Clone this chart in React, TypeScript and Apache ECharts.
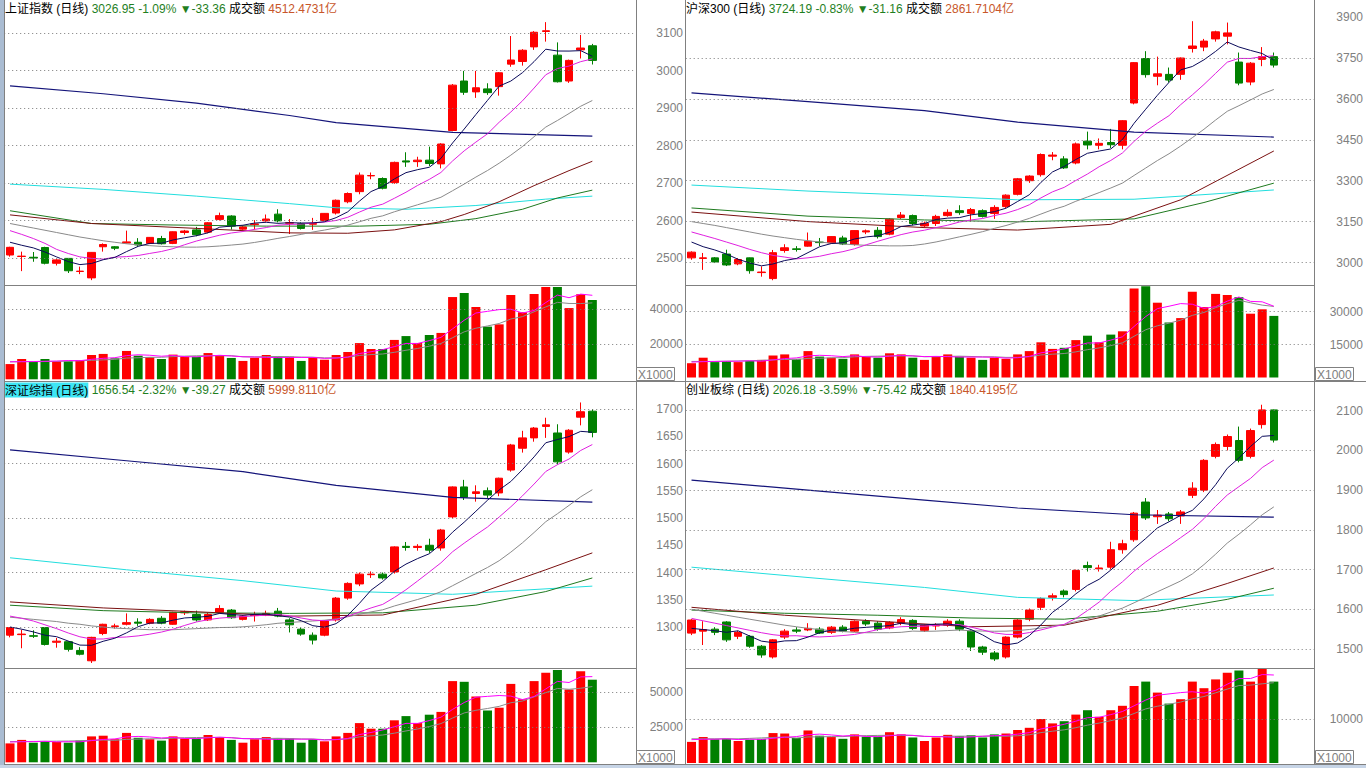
import { useEffect, useRef } from "react";
import * as echarts from "echarts";

const SLOT_COUNT = 54;
const slotLabels = Array.from({ length: SLOT_COUNT }, (_, i) => String(i));

// ---------- 上证指数 ----------
const shName = "上证指数 (日线)";
const shQuote = "3026.95 -1.09%";
const shChange = "▼-33.36";
const shAmount = "4512.4731亿";
// [open, close, low, high]
const shOHLC = [
  [2508, 2528.5, 2503.5, 2530], [2504, 2505, 2465, 2517], [2502, 2500, 2490, 2516], [2528, 2486, 2483, 2530],
  [2486, 2495, 2480, 2497], [2499, 2466, 2460, 2500], [2464, 2465, 2457, 2477], [2447, 2515, 2441, 2516],
  [2530, 2536, 2517, 2539], [2530, 2526, 2521, 2532], [2540, 2543, 2539, 2573], [2542, 2535, 2530, 2553],
  [2539, 2555, 2537, 2556], [2552, 2538, 2536, 2559], [2539, 2570, 2537, 2571], [2568, 2572, 2562, 2575],
  [2575, 2562, 2558, 2583], [2569, 2594, 2566, 2596], [2603, 2613, 2600, 2621], [2612, 2585, 2576, 2614],
  [2577, 2583, 2575, 2586], [2589, 2591, 2576, 2601], [2599, 2604, 2597, 2616], [2617, 2599, 2595, 2630],
  [2593, 2594, 2564, 2604], [2592, 2579, 2576, 2595], [2590, 2592, 2575, 2607], [2600, 2619, 2598, 2620],
  [2620, 2654, 2616, 2656], [2650, 2672, 2646, 2675], [2677, 2721, 2670, 2728], [2719, 2720, 2710, 2728],
  [2712, 2686, 2683, 2715], [2701, 2755, 2698, 2757], [2759, 2756, 2743, 2782], [2757, 2761, 2743, 2770],
  [2761, 2752, 2745, 2797], [2751, 2804, 2739, 2806], [2840, 2961, 2838, 2964], [2972, 2942, 2935, 2999],
  [2943, 2954, 2927, 2999], [2951, 2941, 2935, 2966], [2957, 2994, 2933, 2996], [3017, 3028, 3010, 3092],
  [3024, 3054, 3013, 3057], [3063, 3102, 3055, 3105], [3104, 3106, 3077, 3129], [3041, 2970, 2968, 3075],
  [2972, 3027, 2967, 3029], [3055, 3060, 3032, 3095], [3066, 3027, 3016, 3071],
];
const shVol = [
  8700, 11600, 9900, 11600, 10300, 10300, 11000, 13900, 14500, 12000, 16200, 13500, 12600, 11600, 14100, 12900,
  12900, 15000, 13700, 12200, 10500, 12300, 13900, 12900, 12900, 10500, 12300, 11200, 13900, 15600, 20700, 17300,
  17300, 22500, 24700, 20700, 25300, 26500, 47000, 49300, 41300, 30100, 31400, 48200, 38300, 48700, 52700, 52700,
  40700, 48600, 45300,
];
const shMa5Lead = [2542, 2534, 2527, 2516];
const shMa10Lead = [2573, 2563, 2552, 2539, 2523, 2512, 2503, 2499, 2497];
const shMa20Lead = [2592, 2586, 2580, 2574, 2568, 2562, 2556, 2551, 2546, 2542, 2538, 2535, 2533, 2531, 2530, 2529, 2529, 2530, 2532];
const shMa40 = [[0, 2615], [7, 2592], [16, 2579], [24, 2567], [29, 2566], [33, 2575], [37, 2597], [39, 2616], [42, 2650], [45, 2693], [48, 2733], [50, 2758]];
const shMa60 = [[0, 2626], [7, 2592], [14, 2588], [22, 2585], [30, 2585], [36, 2590], [40, 2605], [44, 2630], [47, 2660], [50, 2681]];
const shMa120 = [[0, 2697], [8, 2683], [16, 2665], [24, 2645], [28, 2634], [34, 2630], [40, 2640], [46, 2657], [50, 2665]];
const shMa250 = [[0, 2959], [8, 2938], [16, 2913], [24, 2880], [28, 2861], [38, 2835], [50, 2825]];
const shVolMa5Lead = [10000, 10100, 10150, 10300];
const shVolMa10Lead = [10000, 10050, 10100, 10150, 10250, 10400, 10600, 10850, 11100];
const shPriceLabels = [2500, 2600, 2700, 2800, 2900, 3000, 3100];
const shPriceGridVals = [2500, 2600, 2700, 2800, 2900, 3000, 3100];
const shVolLabels = [20000, 40000];

// ---------- 沪深300 ----------
const hsName = "沪深300 (日线)";
const hsQuote = "3724.19 -0.83%";
const hsChange = "▼-31.16";
const hsAmount = "2861.7104亿";
const hsOHLC = [
  [3017, 3038, 3010, 3041], [3015, 3017, 2973, 3035], [3017, 3002, 2998, 3020], [3031, 2991, 2987, 3047],
  [2995, 3011, 2990, 3016], [3017, 2970, 2959, 3018], [2963, 2965, 2948, 2986], [2941, 3036, 2935, 3046],
  [3044, 3054, 3036, 3067], [3050, 3048, 3040, 3060], [3060, 3078, 3058, 3110], [3075, 3073, 3060, 3090],
  [3072, 3095, 3068, 3096], [3090, 3068, 3064, 3098], [3066, 3117, 3062, 3118], [3112, 3116, 3104, 3121],
  [3118, 3095, 3088, 3130], [3104, 3159, 3100, 3162], [3165, 3174, 3160, 3185], [3172, 3143, 3136, 3176],
  [3134, 3144, 3127, 3150], [3143, 3169, 3134, 3175], [3172, 3184, 3168, 3195], [3190, 3183, 3175, 3210],
  [3180, 3194, 3150, 3200], [3190, 3169, 3165, 3195], [3180, 3202, 3160, 3210], [3205, 3247, 3200, 3250],
  [3250, 3307, 3246, 3310], [3300, 3317, 3292, 3320], [3322, 3396, 3315, 3400], [3390, 3394, 3375, 3405],
  [3380, 3347, 3343, 3390], [3365, 3435, 3360, 3440], [3445, 3431, 3415, 3480], [3430, 3437, 3415, 3455],
  [3440, 3432, 3420, 3490], [3430, 3520, 3415, 3522], [3585, 3733, 3580, 3735], [3748, 3689, 3678, 3775],
  [3683, 3692, 3650, 3755], [3690, 3669, 3660, 3715], [3690, 3750, 3670, 3752], [3785, 3794, 3770, 3885],
  [3790, 3812, 3775, 3820], [3820, 3846, 3810, 3850], [3830, 3842, 3800, 3880], [3735, 3658, 3650, 3770],
  [3662, 3731, 3650, 3735], [3745, 3755, 3720, 3790], [3755, 3724, 3715, 3770],
];
const hsVol = [
  6500, 9000, 7000, 7500, 7000, 7500, 8000, 10000, 10500, 8500, 12000, 9500, 9000, 8500, 10500, 9500,
  9000, 11000, 10500, 9000, 8000, 9500, 10500, 9500, 9000, 8000, 9000, 8500, 10500, 12000, 16000, 13000,
  13500, 17000, 19000, 16000, 19500, 21000, 40500, 41500, 34000, 25000, 27000, 39000, 32000, 38000, 37500, 36500,
  29000, 31000, 28000,
];
const hsMa5Lead = [3075, 3058, 3046, 3031];
const hsMa10Lead = [3112, 3100, 3088, 3075, 3062, 3048, 3036, 3026, 3020];
const hsMa20Lead = [3150, 3143, 3136, 3128, 3120, 3112, 3104, 3097, 3091, 3085, 3080, 3075, 3071, 3068, 3065, 3063, 3062, 3061, 3061];
const hsMa40 = [[0, 3185], [10, 3150], [20, 3128], [28, 3119], [36, 3140], [42, 3230], [50, 3409]];
const hsMa60 = [[0, 3200], [10, 3170], [20, 3156], [28, 3149], [38, 3160], [44, 3220], [50, 3291]];
const hsMa120 = [[0, 3284], [10, 3262], [20, 3245], [28, 3230], [38, 3232], [50, 3266]];
const hsMa250 = [[0, 3622], [10, 3590], [20, 3557], [28, 3515], [38, 3478], [50, 3460]];
const hsVolMa5Lead = [7000, 7200, 7300, 7400];
const hsVolMa10Lead = [7300, 7300, 7300, 7400, 7500, 7600, 7800, 8000, 8200];
const hsPriceLabels = [3000, 3150, 3300, 3450, 3600, 3750, 3900];
const hsPriceGridVals = [3000, 3150, 3300, 3450, 3600, 3750];
const hsVolLabels = [15000, 30000];

// ---------- 深证综指 ----------
const szName = "深证综指 (日线)";
const szQuote = "1656.54 -2.32%";
const szChange = "▼-39.27";
const szAmount = "5999.8110亿";
const szOHLC = [
  [1285, 1299, 1281, 1300], [1286, 1287, 1261, 1295], [1284, 1283, 1280, 1294], [1299, 1268, 1266, 1300],
  [1272, 1274, 1262, 1280], [1273, 1259, 1255, 1274], [1257, 1250, 1248, 1263], [1238, 1281, 1234, 1282],
  [1288, 1305, 1285, 1306], [1301, 1302, 1297, 1306], [1305, 1308, 1303, 1325], [1309, 1307, 1302, 1316],
  [1307, 1314, 1305, 1316], [1316, 1307, 1305, 1320], [1305, 1327, 1304, 1328], [1326, 1328, 1322, 1330],
  [1323, 1313, 1310, 1330], [1313, 1323, 1311, 1326], [1327, 1334, 1325, 1340], [1331, 1317, 1315, 1333],
  [1314, 1320, 1312, 1322], [1321, 1322, 1310, 1328], [1322, 1325, 1320, 1330], [1329, 1320, 1318, 1335],
  [1313, 1304, 1290, 1316], [1296, 1287, 1284, 1299], [1285, 1276, 1268, 1290], [1285, 1311, 1283, 1312],
  [1313, 1353, 1310, 1355], [1353, 1380, 1350, 1382], [1379, 1397, 1375, 1400], [1396, 1397, 1390, 1402],
  [1397, 1390, 1387, 1400], [1401, 1447, 1398, 1448], [1448, 1446, 1440, 1456], [1446, 1448, 1440, 1452],
  [1450, 1441, 1436, 1462], [1445, 1478, 1440, 1480], [1502, 1557, 1500, 1558], [1557, 1538, 1533, 1570],
  [1545, 1548, 1530, 1560], [1550, 1542, 1537, 1556], [1546, 1573, 1540, 1574], [1588, 1634, 1585, 1636],
  [1628, 1647, 1620, 1660], [1647, 1665, 1640, 1667], [1668, 1671, 1647, 1684], [1656, 1603, 1598, 1672],
  [1621, 1661, 1618, 1663], [1685, 1695, 1670, 1712], [1696, 1657, 1648, 1700],
];
const szVol = [
  13500, 16000, 14000, 15000, 14500, 14000, 15500, 18500, 19000, 16500, 21000, 17500, 16500, 15500, 18500, 17000,
  17000, 19500, 18000, 16000, 14000, 16500, 18000, 17000, 17000, 14000, 16500, 15000, 18500, 21000, 28000, 24000,
  24000, 30000, 33000, 28000, 34000, 36000, 58000, 57500, 47000, 37000, 39000, 56000, 45000, 58000, 64000, 66000,
  52000, 65000, 59000,
];
const szMa5Lead = [1300, 1296, 1291, 1285];
const szMa10Lead = [1320, 1316, 1311, 1304, 1297, 1289, 1282, 1278, 1278];
const szMa20Lead = [1318, 1316, 1314, 1312, 1310, 1307, 1305, 1302, 1300, 1298, 1297, 1296, 1295, 1295, 1295, 1296, 1297, 1298, 1299];
const szMa40 = [[0, 1346], [8, 1335], [16, 1328], [24, 1320], [32, 1322], [40, 1360], [46, 1405], [50, 1436]];
const szMa60 = [[0, 1340], [8, 1330], [16, 1326], [24, 1325], [32, 1326], [40, 1340], [46, 1365], [50, 1390]];
const szMa120 = [[0, 1427], [10, 1405], [20, 1385], [28, 1366], [38, 1360], [50, 1375]];
const szMa250 = [[0, 1625], [10, 1605], [20, 1585], [28, 1560], [38, 1538], [50, 1529]];
const szVolMa5Lead = [14500, 14700, 14800, 15000];
const szVolMa10Lead = [14800, 14800, 14900, 15000, 15100, 15200, 15400, 15700, 15900];
const szPriceLabels = [1300, 1350, 1400, 1450, 1500, 1550, 1600, 1650, 1700];
const szPriceGridVals = [1300, 1400, 1500, 1600, 1700];
const szVolLabels = [25000, 50000];

// ---------- 创业板综 ----------
const cyName = "创业板综 (日线)";
const cyQuote = "2026.18 -3.59%";
const cyChange = "▼-75.42";
const cyAmount = "1840.4195亿";
const cyOHLC = [
  [1540, 1573, 1535, 1575], [1545, 1549, 1510, 1570], [1550, 1542, 1535, 1555], [1568, 1523, 1518, 1570],
  [1532, 1542, 1525, 1546], [1532, 1507, 1503, 1535], [1507, 1485, 1478, 1510], [1480, 1523, 1476, 1525],
  [1530, 1545, 1525, 1550], [1548, 1545, 1540, 1555], [1548, 1552, 1545, 1565], [1550, 1540, 1538, 1555],
  [1542, 1555, 1538, 1558], [1555, 1545, 1542, 1560], [1545, 1570, 1543, 1572], [1570, 1563, 1558, 1575],
  [1565, 1550, 1546, 1570], [1553, 1567, 1550, 1570], [1565, 1574, 1560, 1580], [1572, 1552, 1548, 1575],
  [1547, 1560, 1543, 1562], [1558, 1560, 1548, 1565], [1560, 1570, 1556, 1575], [1570, 1550, 1545, 1575],
  [1545, 1505, 1495, 1548], [1505, 1492, 1485, 1508], [1490, 1475, 1470, 1495], [1480, 1530, 1476, 1532],
  [1530, 1573, 1527, 1575], [1575, 1598, 1570, 1602], [1605, 1627, 1598, 1630], [1630, 1634, 1622, 1640],
  [1646, 1637, 1630, 1650], [1650, 1698, 1645, 1700], [1710, 1705, 1695, 1720], [1702, 1704, 1695, 1712],
  [1706, 1750, 1700, 1770], [1750, 1765, 1740, 1775], [1775, 1842, 1770, 1845], [1870, 1830, 1825, 1880],
  [1833, 1837, 1815, 1850], [1840, 1828, 1822, 1845], [1835, 1845, 1815, 1850], [1887, 1905, 1880, 1920],
  [1900, 1975, 1895, 1978], [1985, 2015, 1980, 2020], [2010, 2035, 2000, 2040], [2025, 1975, 1970, 2060],
  [1985, 2050, 1980, 2055], [2065, 2102, 2055, 2115], [2102, 2026, 2020, 2103],
];
const cyVol = [
  4800, 5900, 5400, 5500, 5000, 5300, 5500, 6800, 6700, 5700, 7400, 6200, 5900, 5500, 6500, 6000,
  6000, 7000, 6500, 5800, 5000, 5800, 6400, 6100, 6300, 5800, 6500, 6700, 7500, 8000, 10000, 9000,
  9500, 11000, 12000, 10500, 12000, 13000, 17500, 18500, 16000, 13500, 14500, 18500, 17000, 19000, 20500, 21000,
  18500, 21500, 18500,
];
const cyMa5Lead = [1552, 1549, 1546, 1542];
const cyMa10Lead = [1577, 1571, 1565, 1559, 1553, 1547, 1541, 1536, 1533];
const cyMa20Lead = [1600, 1595, 1590, 1585, 1580, 1575, 1570, 1565, 1560, 1556, 1552, 1549, 1546, 1544, 1542, 1541, 1541, 1541, 1542];
const cyMa40 = [[0, 1605], [8, 1585], [16, 1570], [24, 1556], [32, 1560], [40, 1610], [46, 1665], [50, 1704]];
const cyMa60 = [[0, 1598], [8, 1590], [16, 1585], [24, 1578], [32, 1575], [40, 1595], [46, 1625], [50, 1653]];
const cyMa120 = [[0, 1706], [10, 1680], [20, 1655], [28, 1630], [38, 1622], [50, 1636]];
const cyMa250 = [[0, 1925], [10, 1900], [20, 1875], [28, 1855], [38, 1838], [50, 1832]];
const cyVolMa5Lead = [5300, 5400, 5400, 5500];
const cyVolMa10Lead = [5500, 5500, 5500, 5500, 5500, 5600, 5700, 5800, 5900];
const cyPriceLabels = [1500, 1600, 1700, 1800, 1900, 2000, 2100];
const cyPriceGridVals = [1500, 1600, 1700, 1800, 1900, 2000, 2100];
const cyVolLabels = [10000];

// ---------- layout (pixels) ----------
const PLOT_W = 628.9;
const layouts = [
  { x0: 4.2, headerX: 5, headerY: 9, labelRight: 683, price: { refV: 3100, refPx: 33, scale: 0.375, topPx: 0, min: 2400, interval: 100 }, vol: { zeroPx: 379.3, scale: 0.00175, max: 60000, interval: 20000 }, box: { x: 636, y: 367 }, selected: false },
  { x0: 685.7, headerX: 686, headerY: 9, labelRight: 1363, price: { refV: 3750, refPx: 58, scale: 0.27267, topPx: 0, min: 2850, interval: 150 }, vol: { zeroPx: 377.5, scale: 0.0022, max: 45000, interval: 15000 }, box: { x: 1315, y: 367 }, selected: false },
  { x0: 4.2, headerX: 5, headerY: 390, labelRight: 683, price: { refV: 1700, refPx: 409, scale: 0.545, topPx: 383, min: 1200, interval: 50 }, vol: { zeroPx: 762.3, scale: 0.0014, max: 75000, interval: 25000 }, box: { x: 636, y: 750 }, selected: true },
  { x0: 685.7, headerX: 686, headerY: 390, labelRight: 1363, price: { refV: 2100, refPx: 410.7, scale: 0.39717, topPx: 383, min: 1400, interval: 100 }, vol: { zeroPx: 763, scale: 0.0044, max: 30000, interval: 10000 }, box: { x: 1315, y: 750 }, selected: false },
];

const panels = [
  { name: shName, quote: shQuote, change: shChange, amount: shAmount, ohlc: shOHLC, vol: shVol, ma5Lead: shMa5Lead, ma10Lead: shMa10Lead, ma20Lead: shMa20Lead, ma40: shMa40, ma60: shMa60, ma120: shMa120, ma250: shMa250, volMa5Lead: shVolMa5Lead, volMa10Lead: shVolMa10Lead, priceLabels: shPriceLabels, priceGrid: shPriceGridVals, volLabels: shVolLabels },
  { name: hsName, quote: hsQuote, change: hsChange, amount: hsAmount, ohlc: hsOHLC, vol: hsVol, ma5Lead: hsMa5Lead, ma10Lead: hsMa10Lead, ma20Lead: hsMa20Lead, ma40: hsMa40, ma60: hsMa60, ma120: hsMa120, ma250: hsMa250, volMa5Lead: hsVolMa5Lead, volMa10Lead: hsVolMa10Lead, priceLabels: hsPriceLabels, priceGrid: hsPriceGridVals, volLabels: hsVolLabels },
  { name: szName, quote: szQuote, change: szChange, amount: szAmount, ohlc: szOHLC, vol: szVol, ma5Lead: szMa5Lead, ma10Lead: szMa10Lead, ma20Lead: szMa20Lead, ma40: szMa40, ma60: szMa60, ma120: szMa120, ma250: szMa250, volMa5Lead: szVolMa5Lead, volMa10Lead: szVolMa10Lead, priceLabels: szPriceLabels, priceGrid: szPriceGridVals, volLabels: szVolLabels },
  { name: cyName, quote: cyQuote, change: cyChange, amount: cyAmount, ohlc: cyOHLC, vol: cyVol, ma5Lead: cyMa5Lead, ma10Lead: cyMa10Lead, ma20Lead: cyMa20Lead, ma40: cyMa40, ma60: cyMa60, ma120: cyMa120, ma250: cyMa250, volMa5Lead: cyVolMa5Lead, volMa10Lead: cyVolMa10Lead, priceLabels: cyPriceLabels, priceGrid: cyPriceGridVals, volLabels: cyVolLabels },
];

const UP = "#ff0000";
const DOWN = "#008000";
const FONT = '"Liberation Sans", "Noto Sans CJK SC", sans-serif';
const AXIS_COLOR = "#808080";
const BORDER = "#808080";

function sma(values: number[], n: number, lead: number[]) {
  return values.map((_, i) => {
    if (i < n - 1) return lead[i] ?? null;
    let s = 0;
    for (let k = i - n + 1; k <= i; k++) s += values[k];
    return Math.round((s / n) * 100) / 100;
  });
}

function dottedMarkLine(vals: number[]) {
  return {
    silent: true,
    symbol: ["none", "none"],
    label: { show: false },
    emphasis: { disabled: true },
    lineStyle: { color: "#7a7a7a", type: [1, 3], width: 1 },
    data: vals.map((v) => ({ yAxis: v })),
  };
}

function lineSeries(name: string, xi: number, data: any[], color: string, width = 1) {
  return {
    name,
    type: "line",
    xAxisIndex: xi,
    yAxisIndex: xi,
    data,
    symbol: "none",
    showSymbol: false,
    silent: true,
    connectNulls: true,
    lineStyle: { color, width },
    z: 4,
  };
}

function buildOption() {
  const grid: any[] = [];
  const xAxis: any[] = [];
  const yAxis: any[] = [];
  const series: any[] = [];
  const graphic: any[] = [];

  panels.forEach((p, k) => {
    const L = layouts[k];
    const pi = 2 * k;
    const vi = 2 * k + 1;
    const pr = L.price;
    const pMax = pr.refV + (pr.refPx - pr.topPx) / pr.scale;
    const pBottom = pr.refPx + (pr.refV - pr.min) * pr.scale;
    const vTop = L.vol.zeroPx - L.vol.max * L.vol.scale;
    const vH = L.vol.max * L.vol.scale;
    grid.push({ left: L.x0, top: pr.topPx, width: PLOT_W, height: pBottom - pr.topPx, containLabel: false });
    grid.push({ left: L.x0, top: vTop, width: PLOT_W, height: vH, containLabel: false });
    const margin = L.labelRight - (L.x0 + PLOT_W);
    [pi, vi].forEach((gi) => {
      xAxis.push({ type: "category", gridIndex: gi, data: slotLabels, boundaryGap: true, show: false });
    });
    const priceLabels = p.priceLabels;
    yAxis.push({
      type: "value", gridIndex: pi, position: "right", min: pr.min, max: pMax, interval: pr.interval,
      axisLine: { show: false }, axisTick: { show: false }, splitLine: { show: false },
      axisLabel: {
        show: true, align: "right", margin, color: AXIS_COLOR, fontSize: 12, fontFamily: FONT,
        showMinLabel: true, showMaxLabel: false,
        formatter: (v: number) => (priceLabels.includes(v) ? String(v) : ""),
      },
    });
    const volLabels = p.volLabels;
    yAxis.push({
      type: "value", gridIndex: vi, position: "right", min: 0, max: L.vol.max, interval: L.vol.interval,
      axisLine: { show: false }, axisTick: { show: false }, splitLine: { show: false },
      axisLabel: {
        show: true, align: "right", margin, color: AXIS_COLOR, fontSize: 12, fontFamily: FONT,
        formatter: (v: number) => (volLabels.includes(v) ? String(v) : ""),
      },
    });

    const closes = p.ohlc.map((d) => d[1]);
    series.push({
      name: p.name, type: "candlestick", xAxisIndex: pi, yAxisIndex: pi, data: p.ohlc,
      barWidth: 8, clip: false, silent: true, z: 3,
      itemStyle: { color: UP, color0: DOWN, borderColor: UP, borderColor0: DOWN, borderWidth: 1 },
      markLine: dottedMarkLine(p.priceGrid),
    });
    series.push(lineSeries("MA250", pi, p.ma250, "#14147a", 1.2));
    series.push(lineSeries("MA120", pi, p.ma120, "#22dede", 1));
    series.push(lineSeries("MA60", pi, p.ma60, "#1f7a1f", 1));
    series.push(lineSeries("MA40", pi, p.ma40, "#7a1010", 1));
    series.push(lineSeries("MA20", pi, sma(closes, 20, p.ma20Lead), "#8a8a8a", 1));
    series.push(lineSeries("MA10", pi, sma(closes, 10, p.ma10Lead), "#e020e0", 1));
    series.push(lineSeries("MA5", pi, sma(closes, 5, p.ma5Lead), "#0a0a5a", 1));

    series.push({
      name: "VOL", type: "bar", xAxisIndex: vi, yAxisIndex: vi, barWidth: 9, silent: true, z: 3,
      data: p.vol.map((v, i) => ({ value: v, itemStyle: { color: p.ohlc[i][1] >= p.ohlc[i][0] ? UP : DOWN } })),
      markLine: dottedMarkLine(p.volLabels),
    });
    series.push(lineSeries("VMA10", vi, sma(p.vol, 10, p.volMa10Lead), "#8a8a8a", 1));
    series.push(lineSeries("VMA5", vi, sma(p.vol, 5, p.volMa5Lead), "#ff00ff", 1));

    graphic.push({
      type: "text", x: L.headerX, y: L.headerY, silent: true, z: 20,
      style: {
        text: `{n|${p.name}} {g|${p.quote} ${p.change}} {k|成交额} {o|${p.amount}}`,
        verticalAlign: "middle",
        font: `12px ${FONT}`,
        rich: {
          n: { fill: "#000", fontSize: 12, fontFamily: FONT, backgroundColor: L.selected ? "#3ee6f4" : "transparent", padding: L.selected ? [2, 0, 1, 0] : 0 },
          g: { fill: "#1f7f1f", fontSize: 12, fontFamily: FONT },
          k: { fill: "#000", fontSize: 12, fontFamily: FONT },
          o: { fill: "#c8562a", fontSize: 12, fontFamily: FONT },
        },
      },
    });
    graphic.push({
      type: "rect", silent: true, z: 20,
      shape: { x: L.box.x + 0.5, y: L.box.y + 0.5, width: 38, height: 13 },
      style: { fill: "#fff", stroke: BORDER, lineWidth: 1 },
    });
    graphic.push({
      type: "text", silent: true, z: 21, x: L.box.x + 2, y: L.box.y + 7.5,
      style: { text: "X1000", fill: AXIS_COLOR, font: `12px ${FONT}`, verticalAlign: "middle" },
    });
  });

  const ln = (x1: number, y1: number, x2: number, y2: number) => ({
    type: "line", silent: true, z: 15,
    shape: { x1, y1, x2, y2 },
    style: { stroke: BORDER, lineWidth: 1 },
  });
  graphic.push({ type: "rect", silent: true, z: 14, shape: { x: 0, y: 0, width: 4, height: 768 }, style: { fill: "#aabcd2" } });
  graphic.push({ type: "rect", silent: true, z: 14, shape: { x: 0, y: 765, width: 1366, height: 3 }, style: { fill: "#c6d4e6" } });
  graphic.push(ln(4.5, 0, 4.5, 765));
  graphic.push(ln(636.5, 0, 636.5, 765));
  graphic.push(ln(685.5, 0, 685.5, 765));
  graphic.push(ln(1314.5, 0, 1314.5, 765));
  graphic.push(ln(5, 285.5, 636, 285.5));
  graphic.push(ln(686, 285.5, 1314, 285.5));
  graphic.push(ln(5, 381.5, 1366, 381.5));
  graphic.push(ln(5, 668.5, 636, 668.5));
  graphic.push(ln(686, 668.5, 1314, 668.5));
  graphic.push(ln(5, 764.5, 1366, 764.5));

  return { animation: false, backgroundColor: "#ffffff", grid, xAxis, yAxis, series, graphic };
}

export default function App() {
  const ref = useRef<HTMLDivElement>(null);
  useEffect(() => {
    const chart = echarts.init(ref.current!, null, { renderer: "svg" });
    chart.setOption(buildOption() as any);
    return () => chart.dispose();
  }, []);
  return (
    <div
      ref={ref}
      style={{ position: "fixed", left: 0, top: 0, width: 1366, height: 768, background: "#fff" }}
    />
  );
}
